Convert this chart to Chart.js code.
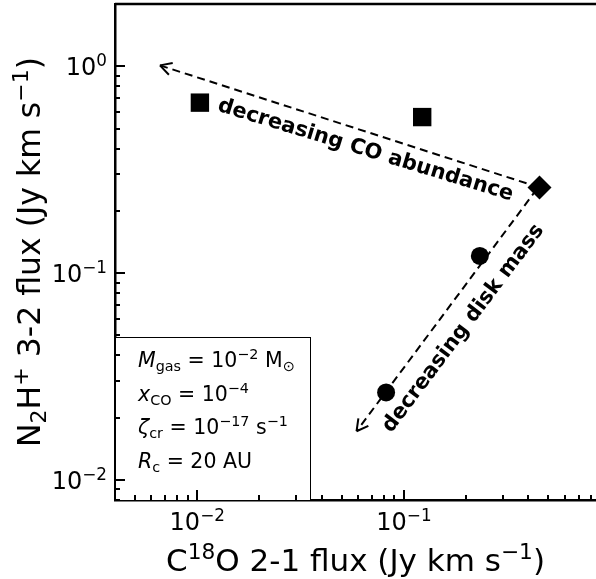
<!DOCTYPE html>
<html>
<head>
<meta charset="utf-8">
<script src="https://cdn.jsdelivr.net/npm/chart.js@4.4.0/dist/chart.umd.min.js"></script>
<style>
  body { margin: 0; background: #fff; overflow: hidden; }
</style>
</head>
<body>
<canvas id="myChart" width="596" height="579"></canvas>
<script>

// model fluxes (Jy km s^-1)
const squareC18O = [0.0103, 0.1226];
const squareN2H = [0.667, 0.568];
const diamondC18O = [0.453];
const diamondN2H = [0.259];
const circleC18O = [0.233, 0.082];
const circleN2H = [0.121, 0.0265];

// dashed arrows, start -> end
const coArrowX = [0.45, 0.0066];
const coArrowY = [0.26, 1.01];
const massArrowX = [0.44, 0.059];
const massArrowY = [0.255, 0.0172];

// axes
const xTicks = [0.004, 0.005, 0.006, 0.007, 0.008, 0.009,
                0.01, 0.02, 0.03, 0.04, 0.05, 0.06, 0.07, 0.08, 0.09,
                0.1, 0.2, 0.3, 0.4, 0.5, 0.6, 0.7, 0.8];
const yTicks = [0.008, 0.009,
                0.01, 0.02, 0.03, 0.04, 0.05, 0.06, 0.07, 0.08, 0.09,
                0.1, 0.2, 0.3, 0.4, 0.5, 0.6, 0.7, 0.8, 0.9,
                1, 2];
const xMajor = [0.01, 0.1];
const xMajorExp = ['−2', '−1'];
const yMajor = [0.01, 0.1, 1];
const yMajorExp = ['−2', '−1', '0'];

const xTitle = [['C', 'r'], ['18', 'sup'], ['O 2-1 flux (Jy km s', 'r'], ['−1', 'sup'], [')', 'r']];
const yTitle = [['N', 'r'], ['2', 'sub'], ['H', 'r'], ['+', 'sup'], [' 3-2 flux (Jy km s', 'r'], ['−1', 'sup'], [')', 'r']];

// annotations
const arrowTexts = ['decreasing CO abundance', 'decreasing disk mass'];
const arrowTextX = [0.0652, 0.194];
const arrowTextY = [0.392, 0.054];
const arrowTextAngle = [17, -53];

const boxLines = [
    [['M', 'i'], ['gas', 'sub'], [' = 10', 'r'], ['−2', 'sup'], [' M', 'r'], ['⊙', 'sub']],
    [['x', 'i'], ['CO', 'sub'], [' = 10', 'r'], ['−4', 'sup']],
    [['ζ', 'i'], ['cr', 'sub'], [' = 10', 'r'], ['−17', 'sup'], [' s', 'r'], ['−1', 'sup']],
    [['R', 'i'], ['c', 'sub'], [' = 20 AU', 'r']]
];

const FONT = '"DejaVu Sans"';

function toPoints(xs, ys) {
    return xs.map((x, i) => ({ x: x, y: ys[i] }));
};

function majorIndex(v, majors) {
    return majors.findIndex(m => Math.abs(m - v) < m * 1e-6);
};

function partFont(k, size) {
    let s = size, dy = 0, style = '';
    if (k === 'sub') { s = size * 0.7; dy = size * 0.2; }
    if (k === 'sup') { s = size * 0.7; dy = -size * 0.38; }
    if (k === 'i') style = 'italic ';
    return { font: style + s + 'px ' + FONT, dy: dy };
};

function richWidth(ctx, parts, size) {
    let w = 0;
    parts.forEach(([t, k]) => {
        ctx.font = partFont(k, size).font;
        w += ctx.measureText(t).width;
    });
    return w;
};

// align: 'left' | 'center' | 'right'
function drawRich(ctx, parts, x, y, size, align) {
    let cx = x;
    const w = richWidth(ctx, parts, size);
    if (align === 'center') cx -= w / 2;
    if (align === 'right') cx -= w;
    ctx.textAlign = 'left';
    ctx.textBaseline = 'alphabetic';
    parts.forEach(([t, k]) => {
        const f = partFont(k, size);
        ctx.font = f.font;
        ctx.fillText(t, cx, y + f.dy);
        cx += ctx.measureText(t).width;
    });
};

const decorations = {
    id: 'decorations',
    afterDatasetsDraw(chart) {
        const ctx = chart.ctx;
        const area = chart.chartArea;
        const xs = chart.scales.x;
        const ys = chart.scales.y;

        // arrow heads at the end of the dashed lines
        [3, 4].forEach(i => {
            const pts = chart.getDatasetMeta(i).data;
            const a = pts[0], b = pts[1];
            const ang = Math.atan2(b.y - a.y, b.x - a.x);
            ctx.save();
            ctx.strokeStyle = '#000';
            ctx.lineWidth = 2;
            ctx.beginPath();
            [0.5, -0.5].forEach(d => {
                ctx.moveTo(b.x, b.y);
                ctx.lineTo(b.x - 13 * Math.cos(ang + d), b.y - 13 * Math.sin(ang + d));
            });
            ctx.stroke();
            ctx.restore();
        });

        // rotated labels along the arrows
        arrowTexts.forEach((t, i) => {
            ctx.save();
            ctx.translate(xs.getPixelForValue(arrowTextX[i]), ys.getPixelForValue(arrowTextY[i]));
            ctx.rotate(arrowTextAngle[i] * Math.PI / 180);
            ctx.font = 'bold 21px ' + FONT;
            ctx.fillStyle = '#000';
            ctx.textAlign = 'center';
            ctx.textBaseline = 'middle';
            ctx.fillText(t, 0, 0);
            ctx.restore();
        });

        // parameter box, lower left
        ctx.save();
        const bx = area.left, bw = 195, bh = 163;
        const by = area.bottom - bh;
        ctx.fillStyle = '#fff';
        ctx.fillRect(bx, by, bw, bh);
        ctx.strokeStyle = '#000';
        ctx.lineWidth = 1;
        ctx.strokeRect(bx + 0.5, by + 0.5, bw, bh);
        ctx.fillStyle = '#000';
        boxLines.forEach((line, i) => {
            drawRich(ctx, line, bx + 23, by + 30 + i * 33.5, 20.5, 'left');
        });
        ctx.restore();

        // inward ticks
        ctx.save();
        ctx.strokeStyle = '#000';
        ctx.lineWidth = 2;
        ctx.beginPath();
        xs.ticks.forEach(t => {
            const px = Math.round(xs.getPixelForValue(t.value));
            const len = majorIndex(t.value, xMajor) >= 0 ? 10 : 5;
            ctx.moveTo(px, area.bottom);
            ctx.lineTo(px, area.bottom - len);
        });
        ys.ticks.forEach(t => {
            const py = Math.round(ys.getPixelForValue(t.value));
            const len = majorIndex(t.value, yMajor) >= 0 ? 10 : 5;
            ctx.moveTo(area.left, py);
            ctx.lineTo(area.left + len, py);
        });
        ctx.stroke();

        // top spine
        ctx.lineWidth = 2.5;
        ctx.beginPath();
        ctx.moveTo(area.left, area.top);
        ctx.lineTo(area.right, area.top);
        ctx.stroke();

        // tick labels
        ctx.fillStyle = '#000';
        xMajor.forEach((v, i) => {
            drawRich(ctx, [['10', 'r'], [xMajorExp[i], 'sup']],
                xs.getPixelForValue(v), area.bottom + 30, 24, 'center');
        });
        yMajor.forEach((v, i) => {
            drawRich(ctx, [['10', 'r'], [yMajorExp[i], 'sup']],
                area.left - 8, ys.getPixelForValue(v) + 9, 24, 'right');
        });

        // axis titles
        drawRich(ctx, xTitle, (area.left + area.right) / 2, area.bottom + 71, 31, 'center');
        ctx.translate(40, (area.top + area.bottom) / 2);
        ctx.rotate(-Math.PI / 2);
        drawRich(ctx, yTitle, 0, 0, 31.5, 'center');
        ctx.restore();
    }
};

const ctx = document.getElementById('myChart').getContext('2d');
Chart.defaults.font.family = FONT;
Chart.defaults.color = '#000';

const myChart = new Chart(ctx, {
    type: 'scatter',
    data: {
        datasets: [
            {
                data: toPoints(squareC18O, squareN2H),
                pointStyle: 'rect',
                pointRadius: 13,
                backgroundColor: '#000',
                borderColor: '#000',
                borderWidth: 0
            },
            {
                data: toPoints(diamondC18O, diamondN2H),
                pointStyle: 'rectRot',
                pointRadius: 12,
                backgroundColor: '#000',
                borderColor: '#000',
                borderWidth: 0
            },
            {
                data: toPoints(circleC18O, circleN2H),
                pointStyle: 'circle',
                pointRadius: 9,
                backgroundColor: '#000',
                borderColor: '#000',
                borderWidth: 0
            },
            {
                data: toPoints(coArrowX, coArrowY),
                showLine: true,
                pointRadius: 0,
                borderColor: '#000',
                borderWidth: 2,
                borderDash: [8, 5]
            },
            {
                data: toPoints(massArrowX, massArrowY),
                showLine: true,
                pointRadius: 0,
                borderColor: '#000',
                borderWidth: 2,
                borderDash: [8, 5]
            }
        ]
    },
    options: {
        responsive: false,
        animation: false,
        layout: { autoPadding: false, padding: { top: 4, left: 0, right: 0, bottom: 0 } },
        plugins: {
            legend: { display: false },
            tooltip: { enabled: false }
        },
        scales: {
            x: {
                type: 'logarithmic',
                position: 'bottom',
                min: 0.004,
                max: 0.85,
                afterBuildTicks: (scale) => { scale.ticks = xTicks.map(v => ({ value: v })); },
                afterFit: (scale) => {
                    scale.height = 79;
                    scale.paddingLeft = 0; scale.paddingRight = 0;
                    scale.paddingTop = 0; scale.paddingBottom = 0;
                },
                grid: { display: false },
                border: { display: true, color: '#000', width: 2.5 },
                ticks: { display: false, autoSkip: false },
                title: { display: false }
            },
            y: {
                type: 'logarithmic',
                position: 'left',
                min: 0.008,
                max: 2,
                afterBuildTicks: (scale) => { scale.ticks = yTicks.map(v => ({ value: v })); },
                afterFit: (scale) => {
                    scale.width = 115;
                    scale.paddingLeft = 0; scale.paddingRight = 0;
                    scale.paddingTop = 0; scale.paddingBottom = 0;
                },
                grid: { display: false },
                border: { display: true, color: '#000', width: 2.5 },
                ticks: { display: false, autoSkip: false },
                title: { display: false }
            }
        }
    },
    plugins: [decorations]
});
</script>
</body>
</html>
